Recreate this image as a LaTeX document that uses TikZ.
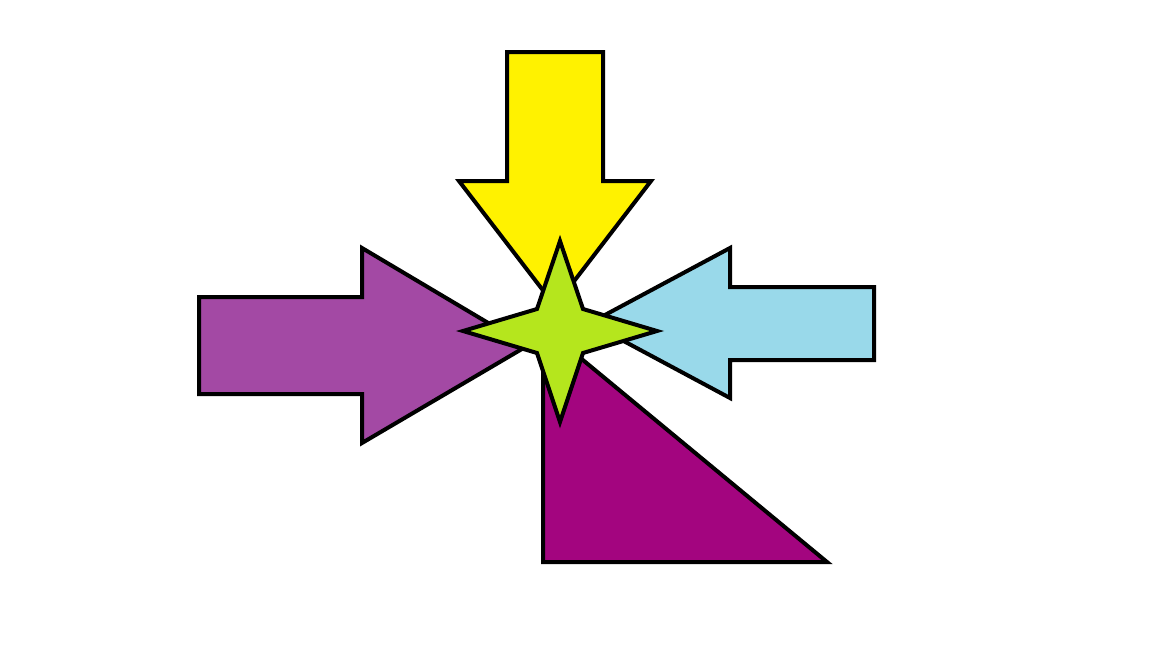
\documentclass[tikz,border=0pt]{standalone}
\begin{document}
\begin{tikzpicture}[x=1pt,y=-1pt,
  piece/.style={draw=black,line width=4pt,line join=miter}]
\definecolor{yel}{HTML}{FFF200}
\definecolor{pur}{HTML}{A349A4}
\definecolor{lblue}{HTML}{99D9EA}
\definecolor{mag}{HTML}{A3057F}
\definecolor{lime}{HTML}{B5E61D}
\useasboundingbox[fill=white] (0,0) rectangle (1152,648);
% yellow arrow down
\draw[piece,fill=yel] (507,52) -- (603,52) -- (603,181) -- (651,181) -- (555,306) -- (459,181) -- (507,181) -- cycle;
% purple arrow right
\draw[piece,fill=pur] (199,297) -- (362,297) -- (362,248) -- (527,346) -- (362,443) -- (362,394) -- (199,394) -- cycle;
% light blue arrow left
\draw[piece,fill=lblue] (874,287) -- (730,287) -- (730,248) -- (590,323) -- (730,398) -- (730,360) -- (874,360) -- cycle;
% magenta triangle
\draw[piece,fill=mag] (543,327) -- (543,562) -- (827,562) -- cycle;
% lime star
\draw[piece,fill=lime] (560,241) -- (583,309) -- (657,331) -- (583,353) -- (560,422) -- (537,353) -- (463,331) -- (537,309) -- cycle;
\end{tikzpicture}
\end{document}
